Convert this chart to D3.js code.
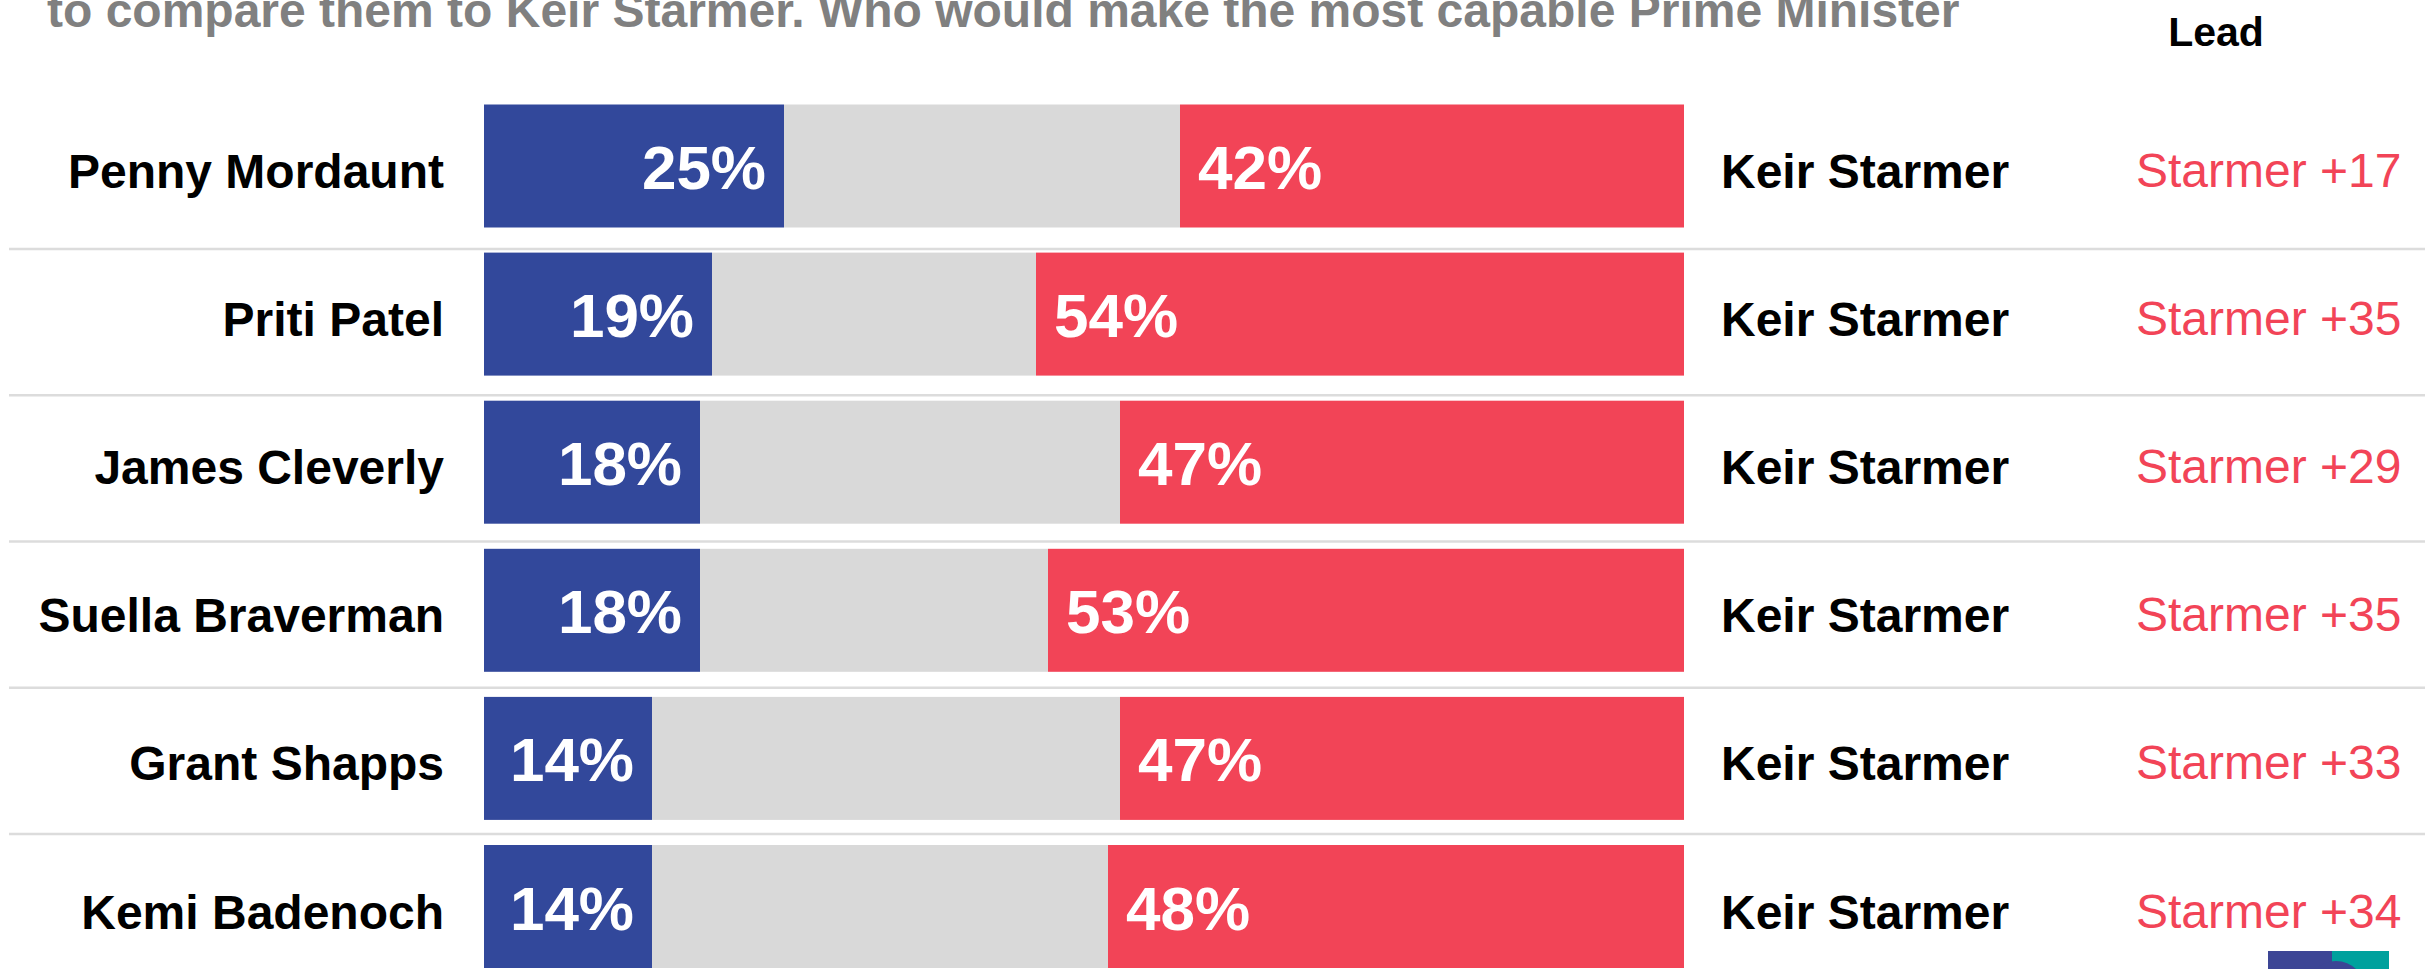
<!DOCTYPE html>
<html>
<head>
<meta charset="utf-8">
<script src="https://cdn.jsdelivr.net/npm/d3@7"></script>
<style>
  body { margin: 0; background: #fff; }
  svg { display: block; font-family: "Liberation Sans", Arial, sans-serif; }
</style>
</head>
<body>
<div id="chart"></div>
<script>
// data
const candidates = ["Penny Mordaunt", "Priti Patel", "James Cleverly", "Suella Braverman", "Grant Shapps", "Kemi Badenoch"];
const toryPct = [25, 19, 18, 18, 14, 14];
const starmerPct = [42, 54, 47, 53, 47, 48];
const opponent = "Keir Starmer";
const leadLabel = "Starmer";
const subtitle = "to compare them to Keir Starmer. Who would make the most capable Prime Minister";

const width = 2425, height = 969;
const colors = { tory: "#32489b", dk: "#d9d9d9", lab: "#f24457", grid: "#dcdcdc", sub: "#808080" };

const rows = candidates.map((name, i) => ({
  name: name,
  tory: toryPct[i],
  lab: starmerPct[i],
  lead: starmerPct[i] - toryPct[i]
}));

const svg = d3.select("#chart")
  .append("svg")
  .attr("width", width)
  .attr("height", height);

// scales
const x = d3.scaleLinear().domain([0, 100]).range([484, 1684]);
const y = d3.scaleBand()
  .domain(candidates)
  .range([104.5, 968])
  .paddingInner(25.1 / 148.1)
  .paddingOuter(0);

// separator lines between rows
const sepY = d3.scaleLinear().domain([1, 5]).range([249, 834]);
svg.append("g")
  .selectAll("line")
  .data(d3.range(1, candidates.length))
  .join("line")
  .attr("x1", 9)
  .attr("x2", width)
  .attr("y1", d => sepY(d))
  .attr("y2", d => sepY(d))
  .attr("stroke", colors.grid)
  .attr("stroke-width", 2.5);

// subtitle, cut at the top of the frame like the source
svg.append("text")
  .attr("x", 47)
  .attr("y", 27)
  .attr("font-size", 48)
  .attr("font-weight", "bold")
  .attr("fill", colors.sub)
  .text(subtitle);

svg.append("text")
  .attr("x", 2216)
  .attr("y", 46)
  .attr("text-anchor", "middle")
  .attr("font-size", 41)
  .attr("font-weight", "bold")
  .attr("fill", "#000")
  .text("Lead");

const row = svg.append("g")
  .selectAll("g")
  .data(rows)
  .join("g")
  .attr("transform", d => "translate(0," + y(d.name) + ")");

const bh = y.bandwidth();
const mid = bh / 2;

// stacked segments: tory | don't know | starmer
row.append("rect")
  .attr("x", x(0))
  .attr("width", d => x(d.tory) - x(0))
  .attr("height", bh)
  .attr("fill", colors.tory);

row.append("rect")
  .attr("x", d => x(d.tory))
  .attr("width", d => x(100 - d.lab) - x(d.tory))
  .attr("height", bh)
  .attr("fill", colors.dk);

row.append("rect")
  .attr("x", d => x(100 - d.lab))
  .attr("width", d => x(100) - x(100 - d.lab))
  .attr("height", bh)
  .attr("fill", colors.lab);

// value labels
row.append("text")
  .attr("x", d => x(d.tory) - 18)
  .attr("y", mid + 23)
  .attr("text-anchor", "end")
  .attr("font-size", 62)
  .attr("font-weight", "bold")
  .attr("fill", "#fff")
  .text(d => d.tory + "%");

row.append("text")
  .attr("x", d => x(100 - d.lab) + 18)
  .attr("y", mid + 23)
  .attr("font-size", 62)
  .attr("font-weight", "bold")
  .attr("fill", "#fff")
  .text(d => d.lab + "%");

// names
row.append("text")
  .attr("x", 444)
  .attr("y", mid + 22)
  .attr("text-anchor", "end")
  .attr("font-size", 48)
  .attr("font-weight", "bold")
  .attr("fill", "#000")
  .text(d => d.name);

row.append("text")
  .attr("x", 1721)
  .attr("y", mid + 22)
  .attr("font-size", 48)
  .attr("font-weight", "bold")
  .attr("fill", "#000")
  .text(opponent);

row.append("text")
  .attr("x", 2136)
  .attr("y", mid + 21)
  .attr("font-size", 48)
  .attr("fill", colors.lab)
  .text(d => leadLabel + " +" + d.lead);

// logo peeking in at the bottom right
const logo = svg.append("g");
logo.append("clipPath")
  .attr("id", "logo-clip")
  .append("rect")
  .attr("x", 2268).attr("y", 951).attr("width", 121).attr("height", 20);
const lg = logo.append("g").attr("clip-path", "url(#logo-clip)");
lg.append("rect").attr("x", 2268).attr("y", 951).attr("width", 64).attr("height", 20).attr("fill", "#3c4595");
lg.append("rect").attr("x", 2332).attr("y", 951).attr("width", 57).attr("height", 20).attr("fill", "#00a19d");
lg.append("circle").attr("cx", 2336).attr("cy", 990).attr("r", 29).attr("fill", "#3c4595");
</script>
</body>
</html>
